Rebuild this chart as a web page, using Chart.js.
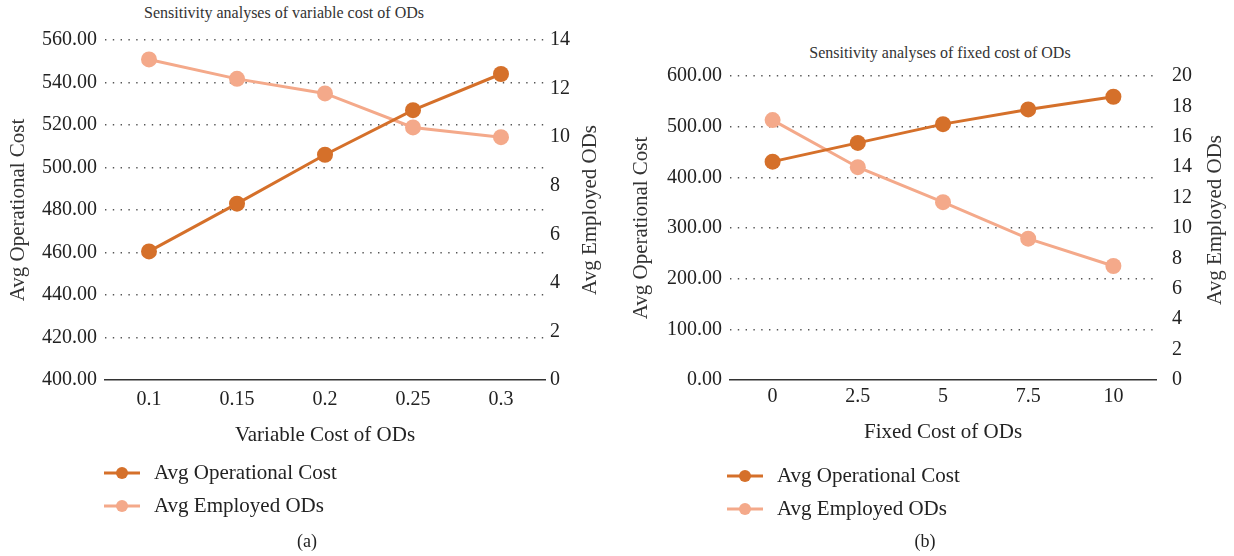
<!DOCTYPE html>
<html>
<head>
<meta charset="utf-8">
<script src="https://cdn.jsdelivr.net/npm/chart.js@4.4.0/dist/chart.umd.min.js"></script>
<style>
  body { margin: 0; background: #fff; font-family: "Liberation Serif", serif; color: #222; }
  #page { position: relative; width: 1234px; height: 556px; overflow: hidden; }
  canvas { position: absolute; top: 0; }
  .title { position: absolute; font-size: 16px; white-space: nowrap; transform: translate(-50%, -50%); color: #333; }
  .legend { position: absolute; font-size: 21px; }
  .legend div { height: 33px; display: flex; align-items: center; white-space: nowrap; }
  .legend svg { margin-right: 14px; }
  .caption { position: absolute; font-size: 18px; transform: translate(-50%, -50%); }
</style>
</head>
<body>
<div id="page">
  <div class="title" style="left:284px; top:13px;">Sensitivity analyses of variable cost of ODs</div>
  <div class="title" style="left:940px; top:53px;">Sensitivity analyses of fixed cost of ODs</div>
  <canvas id="chartA" width="617" height="460" style="left:0px;"></canvas>
  <canvas id="chartB" width="617" height="460" style="left:617px;"></canvas>
  <div class="legend" id="legendA" style="left:104px; top:456px;"></div>
  <div class="legend" id="legendB" style="left:727px; top:459px;"></div>
  <div class="caption" style="left:307px; top:541px;">(a)</div>
  <div class="caption" style="left:925px; top:541px;">(b)</div>
</div>
<script>
// panel (a): variable cost of ODs
const variableCosts = ['0.1', '0.15', '0.2', '0.25', '0.3'];
const opCostVariable = [460.5, 483, 506, 527, 544];
const employedVariable = [13.2, 12.4, 11.8, 10.4, 10.0];

// panel (b): fixed cost of ODs
const fixedCosts = ['0', '2.5', '5', '7.5', '10'];
const opCostFixed = [431, 468, 505, 534, 559];
const employedFixed = [17.1, 14.0, 11.7, 9.3, 7.5];

const seriesNames = ['Avg Operational Cost', 'Avg Employed ODs'];
const seriesColors = ['#d5702a', '#f4a98a'];

const FONT = 'Liberation Serif';

// right axis title reads bottom-to-top, Chart.js only does top-to-bottom
const rightTitlePlugin = {
  id: 'rightTitle',
  afterDraw(chart, args, opts) {
    const ctx = chart.ctx;
    ctx.save();
    ctx.font = '21px "' + FONT + '"';
    ctx.fillStyle = '#333';
    ctx.textAlign = 'center';
    ctx.textBaseline = 'middle';
    ctx.translate(opts.x, opts.y);
    ctx.rotate(-Math.PI / 2);
    ctx.fillText(opts.text, 0, 0);
    ctx.restore();
  }
};

function makeChart(id, labels, opData, empData, cfg) {
  const canvas = document.getElementById(id);
  return new Chart(canvas.getContext('2d'), {
    type: 'line',
    data: {
      labels: labels,
      datasets: [
        {
          label: seriesNames[0],
          data: opData,
          yAxisID: 'y',
          borderColor: seriesColors[0],
          backgroundColor: seriesColors[0],
          borderWidth: 3,
          pointRadius: 8,
          pointHoverRadius: 8,
          pointBorderWidth: 0,
          tension: 0
        },
        {
          label: seriesNames[1],
          data: empData,
          yAxisID: 'y1',
          borderColor: seriesColors[1],
          backgroundColor: seriesColors[1],
          borderWidth: 3,
          pointRadius: 8,
          pointHoverRadius: 8,
          pointBorderWidth: 0,
          tension: 0
        }
      ]
    },
    options: {
      responsive: false,
      animation: false,
      devicePixelRatio: 1,
      layout: { padding: { top: cfg.top, left: 0, right: 0, bottom: 0 } },
      plugins: {
        legend: { display: false },
        title: { display: false },
        tooltip: { enabled: false },
        rightTitle: { text: 'Avg Employed ODs', x: cfg.rightTitleX, y: cfg.rightTitleY }
      },
      scales: {
        x: {
          offset: true,
          grid: { display: false, drawTicks: false },
          border: { display: true, color: '#333', width: 1.5 },
          ticks: { color: '#222', padding: cfg.xTickPad, font: { family: FONT, size: 20 } },
          title: {
            display: true,
            text: cfg.xTitle,
            color: '#222',
            font: { family: FONT, size: 21 },
            padding: { top: 0, bottom: cfg.xTitlePad }
          },
          afterFit: s => { s.height = 80; }
        },
        y: {
          position: 'left',
          min: cfg.leftMin,
          max: cfg.leftMax,
          ticks: {
            stepSize: cfg.leftStep,
            color: '#222',
            padding: 8,
            font: { family: FONT, size: 20 },
            callback: v => v.toFixed(2)
          },
          grid: {
            drawTicks: false,
            lineWidth: 1.4,
            color: c => (c.tick && c.tick.value === cfg.leftMin) ? 'rgba(0,0,0,0)' : '#555'
          },
          border: { display: false, dash: [1.4, 6.4] },
          title: {
            display: true,
            text: 'Avg Operational Cost',
            color: '#333',
            font: { family: FONT, size: 21 },
            padding: { top: cfg.leftTitlePad, bottom: 0 }
          },
          afterFit: s => { s.width = cfg.leftWidth; }
        },
        y1: {
          position: 'right',
          min: 0,
          max: cfg.rightMax,
          ticks: {
            stepSize: 2,
            color: '#222',
            padding: cfg.rightTickPad,
            font: { family: FONT, size: 20 }
          },
          grid: { display: false, drawTicks: false },
          border: { display: false },
          afterFit: s => { s.width = cfg.rightWidth; }
        }
      }
    },
    plugins: [rightTitlePlugin]
  });
}

function buildLegend(elId) {
  const el = document.getElementById(elId);
  seriesNames.forEach((name, i) => {
    const row = document.createElement('div');
    row.innerHTML =
      '<svg width="36" height="14"><line x1="0" y1="7" x2="36" y2="7" stroke="' + seriesColors[i] +
      '" stroke-width="3"/><circle cx="18" cy="7" r="6" fill="' + seriesColors[i] + '"/></svg>' +
      '<span>' + name + '</span>';
    el.appendChild(row);
  });
}

makeChart('chartA', variableCosts, opCostVariable, employedVariable, {
  top: 40, leftMin: 400, leftMax: 560, leftStep: 20, rightMax: 14,
  leftWidth: 105, rightWidth: 72, rightTickPad: 5, leftTitlePad: 6,
  xTickPad: 8, xTitlePad: 12, xTitle: 'Variable Cost of ODs',
  rightTitleX: 590, rightTitleY: 210
});

makeChart('chartB', fixedCosts, opCostFixed, employedFixed, {
  top: 76, leftMin: 0, leftMax: 600, leftStep: 100, rightMax: 20,
  leftWidth: 113, rightWidth: 78, rightTickPad: 16, leftTitlePad: 12,
  xTickPad: 5, xTitlePad: 15, xTitle: 'Fixed Cost of ODs',
  rightTitleX: 598, rightTitleY: 220
});

buildLegend('legendA');
buildLegend('legendB');
</script>
</body>
</html>
